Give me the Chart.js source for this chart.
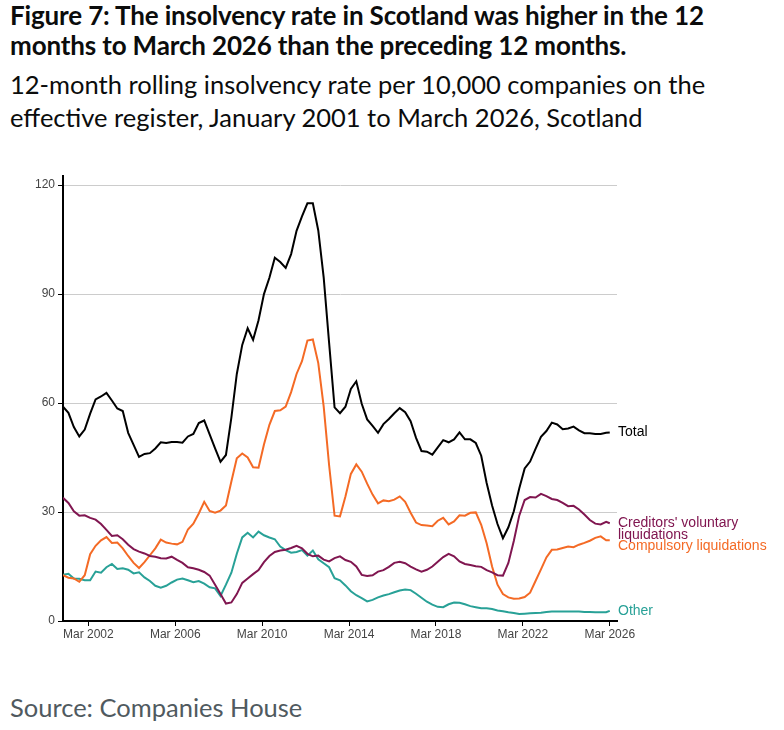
<!DOCTYPE html>
<html>
<head>
<meta charset="utf-8">
<script src="https://cdn.jsdelivr.net/npm/chart.js@4.4.1/dist/chart.umd.min.js"></script>
<style>
  body { margin: 0; background: #fff; }
  #page { position: relative; width: 784px; height: 730px; overflow: hidden; }
  .title { position: absolute; left: 10px; top: 0px; font-family: Lato, sans-serif; font-weight: 700;
           font-size: 26px; line-height: 30px; letter-spacing: -0.15px; color: #0b0c0c; width: 780px; white-space: nowrap; }
  .subtitle { position: absolute; left: 10px; top: 68px; font-family: Lato, sans-serif; font-size: 25.5px;
              line-height: 33px; color: #0b0c0c; width: 780px; white-space: nowrap; }
  .source { position: absolute; left: 10px; top: 692px; font-family: Lato, sans-serif; font-size: 25.5px;
            color: #505a5f; }
  #chart-box { position: absolute; left: 0; top: 160px; width: 784px; height: 490px; }
</style>
</head>
<body>
<div id="page">
  <div class="title">Figure 7: The insolvency rate in Scotland was higher in the 12<br>months to March 2026 than the preceding 12 months.</div>
  <div class="subtitle">12-month rolling insolvency rate per 10,000 companies on the<br>effective register, January 2001 to March 2026, Scotland</div>
  <div id="chart-box"><canvas id="insolvency-chart"></canvas></div>
  <div class="source">Source: Companies House</div>
</div>
<script>
// Months since January 2001 (quarterly readings, last point is March 2026)
const months = [];
for (let m = 0; m <= 300; m += 3) months.push(m);
months.push(302);

const totalRate = [
  59, 57.3, 53.4, 50.8, 52.7, 57.1, 61, 61.8, 62.8, 60.7, 58.5, 57.8, 51.8, 48.5, 45.2, 46, 46.2, 47.5, 49.2, 49,
  49.3, 49.3, 49.1, 50.8, 51.5, 54.5, 55.2, 51.4, 47.5, 43.8, 45.7, 56, 68, 76, 80.6, 77.4, 82.8, 90, 94.5, 100,
  98.8, 97.2, 101, 107.4, 111.4, 115, 115, 107.5, 94.5, 76.5, 58.8, 57.2, 59, 63.9, 66, 59.8, 55.5, 53.7, 51.8, 54.2,
  55.6, 57.2, 58.6, 57.5, 55, 50.4, 46.8, 46.6, 45.8, 47.8, 49.8, 49.2, 50, 51.9, 50, 50, 49, 45.5, 38, 31.8,
  26.7, 22.8, 25.8, 30.2, 36.5, 42, 43.9, 47.4, 50.7, 52.3, 54.6, 54.1, 52.8, 53, 53.5, 52.5, 51.7, 51.7, 51.5, 51.5,
  51.8, 51.9
];

const creditorsRate = [
  33.9, 32.5, 30.2, 29, 29.1, 28.4, 27.9, 26.7, 25.1, 23.4, 23.6, 22.5, 21, 19.8, 19.1, 18.6, 17.9, 17.7, 17.3, 17.2,
  17.7, 16.8, 16, 14.8, 14.5, 14.1, 13.5, 12.5, 10, 7.4, 4.8, 5.1, 7.4, 10.5, 11.7, 12.9, 14, 16.2, 17.9, 19,
  19.4, 19.6, 20.1, 20.7, 20, 18.5, 17.8, 18, 16.9, 16.4, 17.3, 17.8, 16.8, 16.3, 15, 12.7, 12.4, 12.6, 13.6, 14,
  14.9, 16, 16.3, 15.9, 15, 14.2, 13.6, 14.1, 15, 16.3, 17.6, 18.5, 17.8, 16.4, 15.7, 15.4, 15.1, 14.9, 14, 13.4,
  12.6, 12.5, 16, 22, 29, 33.3, 34.1, 34, 35, 34.4, 33.6, 33.3, 32.5, 31.6, 31.7, 30.7, 29.3, 27.8, 26.8, 26.6,
  27.3, 26.9
];

const compulsoryRate = [
  12.6, 11.9, 11.7, 10.8, 12.6, 18.4, 20.7, 22.2, 23.1, 21.5, 21.6, 20, 17.9, 16, 14.6, 16.2, 18.1, 20, 22.4, 21.6,
  21.3, 21.1, 21.8, 25.2, 26.8, 29.6, 32.8, 30.3, 29.8, 30.4, 31.8, 38.4, 44.8, 46.1, 45, 42.3, 42.2, 48.6, 54, 57.8,
  58, 59, 63, 68, 71.5, 77.2, 77.5, 71, 59, 42.8, 29, 28.8, 34.3, 40.5, 43.1, 41.1, 37.8, 34.8, 32.4, 33.2,
  33, 33.4, 34.3, 32.8, 29.8, 27.1, 26.4, 26.3, 26.1, 27.6, 28.4, 26.6, 27.4, 29.1, 29, 29.8, 29.9, 26.5, 21.4, 15,
  10, 7.4, 6.5, 6.1, 6.2, 6.6, 7.8, 11, 14.2, 17.5, 19.6, 19.7, 20.1, 20.5, 20.3, 21, 21.5, 22.1, 22.9, 23.3,
  22.2, 22.2
];

const otherRate = [
  12.7, 13, 11.7, 11.6, 11.2, 11.2, 13.6, 13.3, 14.8, 15.7, 14.3, 14.5, 14.1, 13.1, 13.4, 12, 11, 9.7, 9.2, 9.7,
  10.6, 11.4, 11.7, 11.2, 10.7, 11, 10.3, 9.3, 9, 6.9, 10, 13.3, 18.5, 23, 24.3, 23, 24.6, 23.6, 23, 22.5,
  20.5, 19.5, 18.8, 19, 19.5, 18, 19.4, 17, 15.9, 14.8, 11.8, 11.2, 9.8, 8.2, 7.1, 6.3, 5.4, 5.8, 6.5, 7,
  7.4, 7.9, 8.4, 8.7, 8.5, 7.5, 6.4, 5.3, 4.5, 3.9, 3.8, 4.6, 5.1, 5, 4.6, 4.1, 3.8, 3.5, 3.5, 3.3,
  2.9, 2.7, 2.4, 2.2, 1.9, 2, 2.1, 2.2, 2.3, 2.5, 2.6, 2.6, 2.6, 2.6, 2.6, 2.6, 2.5, 2.5, 2.4, 2.4,
  2.4, 2.8
];

const xTickMonths = [14, 62, 110, 158, 206, 254, 302];
const xTickLabels = ['Mar 2002', 'Mar 2006', 'Mar 2010', 'Mar 2014', 'Mar 2018', 'Mar 2022', 'Mar 2026'];
const yTickValues = [0, 30, 60, 90, 120];

const seriesNames = ['Total', 'Creditors\' voluntary liquidations', 'Compulsory liquidations', 'Other'];
const seriesLabelLines = [['Total'], ['Creditors\' voluntary', 'liquidations'], ['Compulsory liquidations'], ['Other']];
const seriesColours = ['#000000', '#801650', '#f46a25', '#28a197'];
const seriesValues = [totalRate, creditorsRate, compulsoryRate, otherRate];
// pixel nudges so the end labels don't collide
const labelNudge = [0, 0, 6, 0];

function toPoints(values) {
  return values.map((v, i) => ({ x: months[i], y: v }));
}

// Draw series names at the right-hand end of each line
const endLabels = {
  id: 'endLabels',
  afterDatasetsDraw(chart) {
    const { ctx, chartArea, scales } = chart;
    ctx.save();
    ctx.font = '14px "Liberation Sans", Arial, sans-serif';
    ctx.textBaseline = 'middle';
    ctx.textAlign = 'left';
    chart.data.datasets.forEach((ds, i) => {
      const last = ds.data[ds.data.length - 1];
      const y = scales.y.getPixelForValue(last.y) + labelNudge[i];
      ctx.fillStyle = seriesColours[i];
      seriesLabelLines[i].forEach((line, j) => {
        ctx.fillText(line, chartArea.right + 1, y + j * 12);
      });
    });
    ctx.restore();
  }
};

const canvas = document.getElementById('insolvency-chart');

new Chart(canvas.getContext('2d'), {
  type: 'line',
  data: {
    datasets: seriesValues.map((vals, i) => ({
      label: seriesNames[i],
      data: toPoints(vals),
      borderColor: seriesColours[i],
      backgroundColor: seriesColours[i],
      borderWidth: 2,
      pointRadius: 0,
      tension: 0,
      fill: false
    }))
  },
  options: {
    responsive: true,
    maintainAspectRatio: false,
    animation: false,
    layout: { padding: { top: 16, right: 167, left: 0, bottom: 0 } },
    plugins: {
      legend: { display: false },
      tooltip: { enabled: false },
      title: { display: false }
    },
    scales: {
      x: {
        type: 'linear',
        min: 0,
        max: 306,
        afterBuildTicks: scale => { scale.ticks = xTickMonths.map(v => ({ value: v })); },
        afterFit: scale => { scale.height = 29; },
        ticks: {
          autoSkip: false,
          maxRotation: 0,
          padding: 1,
          color: '#444',
          font: { family: '"Liberation Sans", Arial, sans-serif', size: 12 },
          callback: value => xTickLabels[xTickMonths.indexOf(value)]
        },
        grid: { drawOnChartArea: false, drawTicks: true, tickLength: 5, tickColor: '#000' },
        border: { color: '#000', width: 2 }
      },
      y: {
        min: 0,
        max: 122.5,
        afterBuildTicks: scale => { scale.ticks = yTickValues.map(v => ({ value: v })); },
        afterFit: scale => { scale.width = 63; },
        ticks: {
          padding: 3,
          color: '#444',
          font: { family: '"Liberation Sans", Arial, sans-serif', size: 12 }
        },
        grid: { color: '#cccccc', lineWidth: 1, tickLength: 5, tickColor: '#000' },
        border: { color: '#000', width: 2 }
      }
    }
  },
  plugins: [endLabels]
});
</script>
</body>
</html>
